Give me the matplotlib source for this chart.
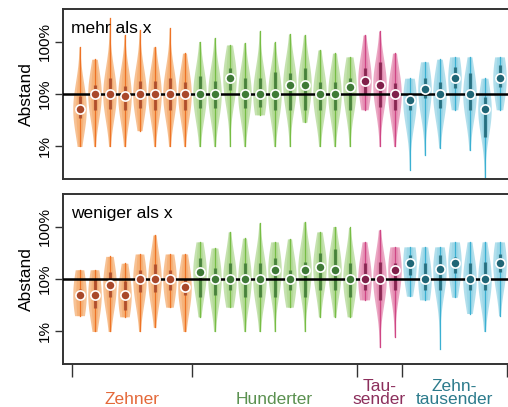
import matplotlib.pyplot as plt
import matplotlib.transforms as mtransforms
import numpy as np

plt.rcParams['font.family'] = ['Liberation Sans', 'DejaVu Sans']

# Groups
group_names = ['Zehner', 'Hunderter', 'Tau-\nsender', 'Zehn-\ntausender']
group_sizes = [8, 11, 3, 7]
fill_colors = ['#F39A4F', '#9FD07A', '#DE6F9E', '#7FCBE0']
line_colors = ['#EE7326', '#77BD45', '#CF4685', '#3BB0D2']
dark_colors = ['#A9482A', '#3F7A36', '#80204A', '#1F6676']
label_colors = ['#E4693A', '#5B9150', '#8C2F5C', '#2C7B8C']

# Panel 1: "mehr als x" (values in %)
mehr_median = [5.2, 10, 10, 9.2, 10, 10, 10, 10, 10, 10, 20, 10, 10, 10, 15, 15,
               10, 10, 13.6, 18, 15, 10, 7.7, 12.5, 10, 20, 10, 5.2, 20]
mehr_q1 = [3.5, 5, 5.2, 5, 5.5, 5, 5, 5, 5.4, 5.4, 12, 5.4, 5.6, 5, 5, 5,
           5, 5, 5, 10, 5.6, 5, 5, 8.4, 5.4, 13, 5, 1.5, 13.6]
mehr_q3 = [9, 15, 20, 14, 18, 18, 20, 17, 22, 18, 31, 20, 20, 26, 25, 31,
           17, 17, 20, 31, 41, 16, 10.4, 20, 17, 33, 25, 8.8, 35]
mehr_min = [1, 1, 1, 1, 2, 1, 1, 1, 1, 1, 1, 1, 4, 1, 1, 2.9,
            1, 1, 1, 5, 1, 1, 0.36, 0.69, 0.94, 5, 0.85, 0.23, 5]
mehr_max = [79, 46, 280, 133, 166, 79, 181, 60, 100, 117, 86, 94, 158, 97, 139, 133,
            69, 60, 51, 133, 158, 60, 20, 41, 46, 51, 51, 20, 51]

# Panel 2: "weniger als x" (values in %)
wen_median = [5, 5, 7.7, 5, 10, 10, 10, 7, 13.6, 10, 10, 10, 10, 15, 10, 15,
              17, 15, 10, 10, 10, 15, 20, 10, 15.5, 20, 10, 10, 20]
wen_q1 = [4, 2.8, 4.5, 2.6, 5.6, 5.6, 6.2, 5, 4.5, 5, 6.2, 4.5, 4.5, 4.5, 6.2, 4.5,
          6.2, 6.2, 4.5, 6.2, 4, 6.2, 12, 6.2, 6.2, 13, 6.2, 6.2, 13.6]
wen_q3 = [6.5, 10, 13.6, 9, 15, 19, 15, 10, 25, 16, 20, 20, 20, 25, 15, 21,
          31, 37, 20, 20, 21, 20, 29, 20, 29, 26, 20, 21, 30]
wen_min = [2, 1, 1, 1.9, 1, 1.2, 2.9, 1, 1.9, 1, 2.9, 1, 1, 1, 2.9, 1,
           1.9, 1.9, 1.9, 4, 0.5, 0.79, 4.7, 4, 0.46, 4.5, 2.2, 1, 2]
wen_max = [15, 15, 27, 20, 30, 69, 30, 30, 51, 39, 79, 60, 117, 51, 58, 122,
           79, 100, 96, 51, 86, 41, 41, 41, 41, 51, 51, 51, 51]

panels = [
    ('mehr als x', mehr_median, mehr_q1, mehr_q3, mehr_min, mehr_max),
    ('weniger als x', wen_median, wen_q1, wen_q3, wen_min, wen_max),
]

group_index = np.repeat(np.arange(len(group_sizes)), group_sizes)
positions = np.arange(1, len(group_index) + 1)
bounds = np.concatenate([[0.5], np.cumsum(group_sizes) + 0.5])

W, H = 508, 407
fig = plt.figure(figsize=(W / 100, H / 100), dpi=100)
ax_top = fig.add_axes([63 / W, 1 - 179 / H, 447 / W, 170 / H])
ax_bot = fig.add_axes([63 / W, 1 - 364 / H, 447 / W, 170 / H])


def violin_shape(lo, hi, med):
    t = np.linspace(np.log10(lo), np.log10(hi), 150)
    w = np.exp(-0.5 * ((t - np.log10(med)) / 0.5) ** 2)
    return 10 ** t, w


half_width = 0.45

for ax, (title, med, q1, q3, lo, hi) in zip([ax_top, ax_bot], panels):
    for i, x in enumerate(positions):
        g = group_index[i]
        y, w = violin_shape(lo[i], hi[i], med[i])
        ax.fill_betweenx(y, x - w * half_width, x + w * half_width,
                         color=fill_colors[g], alpha=0.6, lw=0, zorder=1)
        ax.fill_betweenx(y, x - w * half_width * 0.55, x + w * half_width * 0.55,
                         color=fill_colors[g], alpha=0.4, lw=0, zorder=1)
        ax.plot([x, x], [lo[i], hi[i]], color=line_colors[g], lw=0.9, zorder=2)
        ax.plot([x, x], [q1[i], q3[i]], color=dark_colors[g], lw=2.3,
                alpha=0.85, solid_capstyle='butt', zorder=2)
        ax.plot(x, med[i], 'o', ms=6.6, mfc=dark_colors[g], mec='white',
                mew=1.2, zorder=5)

    ax.axhline(10, color='black', lw=1.8, zorder=3)
    ax.set_yscale('log')
    ax.set_ylim(10 * 10 ** -1.62, 10 * 10 ** 1.62)
    ax.set_xlim(-0.1, 29.7)
    ax.set_yticks([1, 10, 100])
    ax.set_yticklabels(['1%', '10%', '100%'], rotation=90, va='center', fontsize=11)
    ax.minorticks_off()
    ax.tick_params(axis='y', length=6, width=1, color='#333333', pad=2)
    ax.set_ylabel('Abstand', fontsize=12.5, labelpad=3)
    ax.spines['right'].set_visible(False)
    for s in ['left', 'top', 'bottom']:
        ax.spines[s].set_color('#333333')
        ax.spines[s].set_linewidth(1.4)
    ax.text(0.018, 0.93, title, transform=ax.transAxes, fontsize=12.5,
            ha='left', va='top')

ax_top.set_xticks([])

# Group brackets below the lower panel
ax_bot.set_xticks(bounds)
ax_bot.set_xticklabels([])
ax_bot.tick_params(axis='x', length=9, width=1, color='#333333')
trans = mtransforms.blended_transform_factory(ax_bot.transData, fig.transFigure)
for k, name in enumerate(group_names):
    xc = (bounds[k] + bounds[k + 1]) / 2
    ax_bot.text(xc, 0.5 / H, name, transform=trans, ha='center', va='bottom',
                fontsize=12.5, color=label_colors[k], linespacing=0.8)

fig.savefig('out.png', dpi=100)
